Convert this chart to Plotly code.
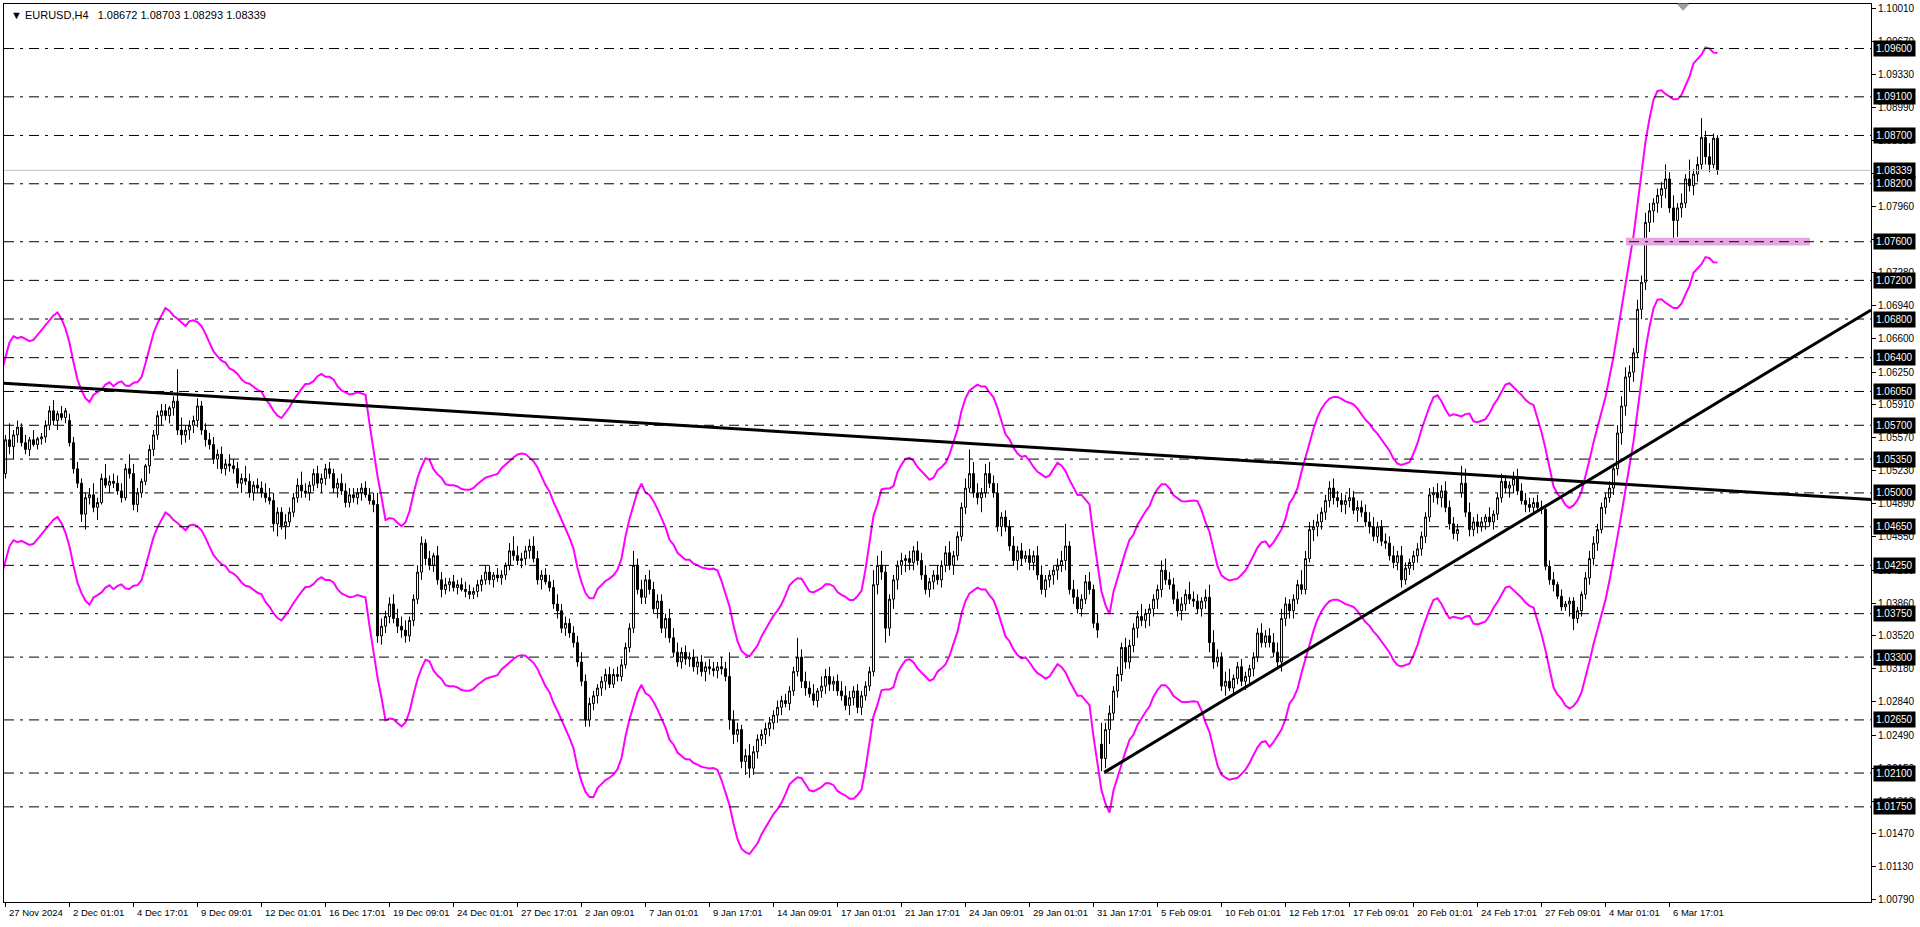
import plotly.graph_objects as go

# ---------------- DATA (prices in pips above 1.0000) ----------------
# bars -3..-1 are the three H4 bars before the visible window (off-screen left)
open_pips = [
    488, 490, 486,                      # 26/27 Nov (before window)
    520, 555, 548, 560,                 # 27 Nov
    568, 552, 545, 555, 550, 556,       # 28 Nov
    558, 570, 585, 575, 582, 578,       # 29 Nov
    575, 552, 525, 510, 478, 495,       # 2 Dec
    498, 485, 490, 515, 508, 512,       # 3 Dec
    510, 502, 495, 525, 520, 488,       # 4 Dec
    500, 512, 528, 545, 560, 580,       # 5 Dec
    585, 580, 588, 595, 565, 560,       # 6 Dec
    565, 570, 575, 590, 565, 555,       # 9 Dec
    550, 535, 540, 525, 530, 528,       # 10 Dec
    525, 510, 515, 512, 500, 508,       # 11 Dec
    505, 500, 495, 492, 468, 480,       # 12 Dec
    466, 470, 480, 495, 508, 502,       # 13 Dec
    500, 508, 520, 510, 515, 525,       # 16 Dec
    520, 505, 510, 502, 490, 498,       # 17 Dec
    495, 500, 505, 498, 492, 488,       # 18 Dec
    352, 362, 372, 385, 370, 362,       # 19 Dec
    358, 352, 368, 390, 418, 448,       # 20 Dec
    432, 425, 435, 410, 400, 405,       # 23 Dec
    408, 402, 405, 400, 398, 395,       # 24 Dec
    398, 405, 410, 418, 410, 415,       # 26 Dec
    412, 415, 425, 440, 435, 430,       # 27 Dec
    432, 440, 445, 432, 410, 415,       # 30 Dec
    408, 402, 385, 378, 360, 365,       # 31 Dec
    355, 345, 325, 305, 265, 282,       # 2 Jan
    290, 298, 305, 312, 302, 312,       # 3 Jan
    310, 322, 340, 360, 425, 400,       # 6 Jan
    392, 410, 400, 380, 388, 360,       # 7 Jan
    370, 350, 335, 325, 335, 328,       # 8 Jan
    330, 320, 325, 315, 320, 318,       # 9 Jan
    316, 320, 318, 310, 265, 250,       # 10 Jan
    255, 222, 228, 215, 232, 245,       # 13 Jan
    250, 256, 262, 270, 278, 285,       # 14 Jan
    282, 295, 315, 330, 305, 298,       # 15 Jan
    292, 285, 295, 300, 310, 302,       # 16 Jan
    305, 295, 290, 280, 288, 295,       # 17 Jan
    278, 290, 300, 315, 405, 425,       # 20 Jan
    418, 360, 390, 410, 425, 430,       # 21 Jan
    432, 428, 440, 430, 415, 400,       # 22 Jan
    408, 415, 410, 425, 438, 425,       # 23 Jan
    435, 455, 485, 505, 520, 500,       # 24 Jan
    495, 500, 520, 510, 500, 465,       # 27 Jan
    475, 465, 445, 430, 440, 432,       # 28 Jan
    435, 428, 435, 415, 400, 410,       # 29 Jan
    415, 420, 425, 430, 445, 400,       # 30 Jan
    392, 380, 390, 408, 400, 365,       # 31 Jan
    240, 225, 255, 272, 295, 312,       # 3 Feb
    340, 325, 342, 360, 372, 368,       # 4 Feb
    375, 380, 390, 400, 420, 410,       # 5 Feb
    405, 390, 378, 385, 395, 390,       # 6 Feb
    388, 380, 388, 392, 345, 325,       # 7 Feb
    330, 300, 305, 298, 308, 320,       # 10 Feb
    305, 310, 318, 330, 355, 345,       # 11 Feb
    352, 345, 335, 325, 370, 385,       # 12 Feb
    378, 390, 405, 400, 432, 462,       # 13 Feb
    465, 470, 480, 492, 505, 495,       # 14 Feb
    492, 488, 492, 495, 482, 485,       # 17 Feb
    480, 470, 465, 455, 465, 450,       # 18 Feb
    448, 435, 428, 435, 410, 422,       # 19 Feb
    428, 435, 442, 455, 475, 498,       # 20 Feb
    500, 495, 502, 485, 468, 458,       # 21 Feb
    500, 510, 480, 462, 470, 465,       # 24 Feb
    470, 475, 470, 478, 495, 512,       # 25 Feb
    505, 508, 515, 502, 492, 488,       # 26 Feb
    485, 490, 485, 483, 424, 410,       # 27 Feb
    405, 393, 382, 385, 388, 370,       # 28 Feb
    378, 395, 412, 432, 448, 462,       # 3 Mar
    485, 495, 505, 525, 562, 590,       # 4 Mar
    620, 625, 645, 690, 718, 780,       # 5 Mar
    792, 800, 808, 815, 825, 795,       # 6 Mar
    782, 795, 800, 825, 818, 830,       # 7 Mar
    840, 868, 848, 840, 867.2,          # 10 Mar
]

high_pips = [
    495, 498, 525,
    560, 572, 565, 575,
    572, 560, 558, 565, 558, 562,
    575, 590, 596, 585, 590, 588,
    582, 558, 532, 515, 500, 505,
    510, 495, 520, 530, 518, 520,
    518, 510, 530, 540, 530, 505,
    515, 530, 550, 565, 585, 592,
    592, 590, 600, 628, 578, 570,
    575, 580, 598, 595, 572, 562,
    558, 545, 548, 535, 540, 535,
    532, 520, 528, 520, 512, 515,
    512, 510, 505, 500, 485, 485,
    478, 485, 500, 515, 522, 510,
    512, 525, 528, 520, 530, 532,
    525, 515, 520, 510, 505, 505,
    505, 510, 512, 505, 500, 500,
    370, 378, 392, 395, 380, 372,
    368, 372, 395, 425, 455, 452,
    440, 438, 445, 418, 412, 412,
    415, 410, 412, 408, 405, 402,
    410, 415, 425, 425, 418, 422,
    420, 428, 448, 455, 445, 438,
    445, 452, 455, 440, 420, 422,
    415, 410, 395, 385, 372, 370,
    362, 352, 335, 312, 288, 295,
    302, 310, 318, 320, 318, 320,
    328, 345, 365, 440, 432, 410,
    415, 420, 408, 395, 395, 375,
    380, 360, 345, 340, 342, 335,
    338, 330, 332, 325, 328, 325,
    325, 330, 325, 335, 275, 262,
    260, 235, 240, 238, 250, 255,
    262, 268, 275, 285, 290, 292,
    300, 320, 350, 338, 315, 305,
    302, 298, 310, 318, 320, 310,
    312, 305, 300, 295, 300, 302,
    295, 305, 320, 420, 435, 440,
    425, 395, 415, 430, 438, 436,
    440, 445, 450, 438, 425, 412,
    420, 425, 430, 445, 450, 440,
    460, 490, 515, 545, 532, 510,
    505, 530, 532, 518, 510, 480,
    482, 472, 455, 445, 448, 440,
    442, 440, 445, 425, 415, 420,
    425, 432, 440, 468, 450, 410,
    400, 395, 415, 418, 405, 375,
    262, 262, 280, 300, 320, 345,
    350, 348, 365, 378, 385, 380,
    385, 395, 405, 430, 432, 418,
    412, 398, 392, 400, 408, 398,
    395, 392, 400, 405, 358, 338,
    335, 315, 318, 312, 325, 328,
    315, 322, 335, 360, 365, 358,
    360, 355, 345, 380, 392, 390,
    395, 410, 420, 440, 470, 472,
    478, 485, 498, 512, 515, 502,
    500, 498, 505, 502, 492, 492,
    488, 480, 475, 470, 472, 458,
    455, 445, 440, 445, 428, 432,
    440, 448, 460, 480, 505, 506,
    510, 508, 512, 492, 475, 468,
    528, 525, 490, 475, 478, 475,
    478, 485, 482, 500, 520, 518,
    512, 522, 525, 510, 500, 495,
    495, 498, 492, 488, 430, 418,
    408, 400, 388, 392, 392, 382,
    398, 418, 440, 455, 468, 490,
    500, 512, 530, 570, 600, 630,
    632, 650, 700, 725, 790, 800,
    805, 815, 822, 840, 832, 808,
    800, 810, 830, 845, 835, 848,
    888, 875, 862, 872, 870.3,
]

low_pips = [
    480, 482, 484,
    515, 540, 535, 552,
    548, 540, 538, 548, 545, 550,
    552, 565, 570, 565, 575, 572,
    548, 520, 505, 470, 462, 488,
    480, 472, 488, 505, 500, 505,
    498, 490, 492, 515, 482, 480,
    495, 508, 520, 538, 555, 570,
    575, 572, 580, 560, 550, 552,
    555, 562, 568, 560, 548, 545,
    530, 525, 520, 518, 522, 520,
    505, 500, 508, 495, 492, 500,
    495, 490, 488, 460, 455, 462,
    452, 465, 475, 490, 495, 495,
    492, 502, 505, 500, 508, 515,
    500, 495, 498, 485, 485, 490,
    488, 492, 495, 488, 480, 345,
    343, 355, 365, 365, 355, 350,
    345, 346, 362, 385, 410, 425,
    420, 418, 405, 392, 395, 398,
    398, 395, 398, 392, 390, 390,
    392, 398, 405, 405, 402, 408,
    405, 410, 420, 430, 425, 422,
    425, 432, 428, 405, 400, 405,
    398, 380, 370, 355, 352, 350,
    340, 320, 300, 258, 258, 275,
    282, 290, 296, 298, 298, 305,
    305, 318, 335, 355, 395, 385,
    385, 395, 375, 370, 355, 350,
    345, 330, 320, 318, 322, 320,
    315, 312, 310, 305, 312, 310,
    308, 312, 305, 255, 240, 242,
    215, 208, 205, 208, 225, 238,
    240, 248, 255, 262, 270, 278,
    275, 290, 310, 298, 290, 288,
    280, 278, 288, 292, 295, 295,
    290, 285, 275, 270, 280, 272,
    270, 285, 295, 310, 395, 410,
    345, 352, 380, 400, 415, 418,
    420, 420, 425, 410, 395, 392,
    400, 405, 402, 418, 420, 415,
    430, 450, 478, 500, 495, 488,
    480, 495, 505, 495, 460, 455,
    460, 440, 425, 420, 425, 428,
    420, 420, 410, 395, 392, 402,
    405, 410, 418, 420, 395, 385,
    375, 372, 385, 395, 360, 350,
    212, 215, 240, 265, 288, 305,
    318, 318, 335, 350, 362, 360,
    362, 372, 380, 392, 405, 400,
    385, 372, 368, 378, 385, 382,
    375, 372, 380, 335, 318, 320,
    295, 290, 295, 290, 302, 300,
    296, 302, 310, 325, 340, 340,
    340, 330, 318, 315, 362, 370,
    370, 385, 395, 395, 428, 450,
    455, 462, 472, 485, 488, 485,
    480, 478, 485, 478, 470, 475,
    465, 458, 450, 448, 445, 442,
    430, 422, 420, 402, 405, 415,
    420, 428, 435, 448, 470, 490,
    488, 485, 480, 462, 452, 450,
    495, 475, 455, 455, 458, 460,
    462, 465, 462, 472, 490, 500,
    495, 500, 498, 488, 480, 480,
    478, 480, 478, 420, 405, 398,
    390, 378, 378, 372, 358, 365,
    372, 390, 405, 425, 440, 458,
    478, 490, 498, 518, 550, 580,
    605, 615, 640, 680, 710, 770,
    780, 790, 795, 805, 790, 762,
    765, 785, 795, 812, 808, 822,
    835, 840, 832, 836, 829.3,
]

close_pips = [
    490, 486, 520,
    555, 548, 560, 568,
    552, 545, 555, 550, 556, 558,
    570, 585, 575, 582, 578, 585,
    552, 525, 510, 478, 495, 498,
    485, 490, 515, 508, 512, 510,
    502, 495, 525, 520, 488, 500,
    512, 528, 545, 560, 580, 585,
    580, 588, 595, 565, 560, 565,
    570, 575, 590, 565, 555, 550,
    535, 540, 525, 530, 528, 525,
    510, 515, 512, 500, 508, 505,
    500, 495, 492, 468, 480, 466,
    470, 480, 495, 508, 502, 500,
    508, 520, 510, 515, 525, 520,
    505, 510, 502, 490, 498, 495,
    500, 505, 498, 492, 488, 352,
    362, 372, 385, 370, 362, 358,
    352, 368, 390, 418, 448, 432,
    425, 435, 410, 400, 405, 408,
    402, 405, 400, 398, 395, 398,
    405, 410, 418, 410, 415, 412,
    415, 425, 440, 435, 430, 432,
    440, 445, 432, 410, 415, 408,
    402, 385, 378, 360, 365, 355,
    345, 325, 305, 265, 282, 290,
    298, 305, 312, 302, 312, 310,
    322, 340, 360, 425, 400, 392,
    410, 400, 380, 388, 360, 370,
    350, 335, 325, 335, 328, 330,
    320, 325, 315, 320, 318, 316,
    320, 318, 310, 265, 250, 255,
    222, 228, 215, 232, 245, 250,
    256, 262, 270, 278, 285, 282,
    295, 315, 330, 305, 298, 292,
    285, 295, 300, 310, 302, 305,
    295, 290, 280, 288, 295, 278,
    290, 300, 315, 405, 425, 418,
    360, 390, 410, 425, 430, 432,
    428, 440, 430, 415, 400, 408,
    415, 410, 425, 438, 425, 435,
    455, 485, 505, 520, 500, 495,
    500, 520, 510, 500, 465, 475,
    465, 445, 430, 440, 432, 435,
    428, 435, 415, 400, 410, 415,
    420, 425, 430, 445, 400, 392,
    380, 390, 408, 400, 365, 358,
    225, 255, 272, 295, 312, 340,
    325, 342, 360, 372, 368, 375,
    380, 390, 400, 420, 410, 405,
    390, 378, 385, 395, 390, 388,
    380, 388, 392, 345, 325, 330,
    300, 305, 298, 308, 320, 305,
    310, 318, 330, 355, 345, 352,
    345, 335, 325, 370, 385, 378,
    390, 405, 400, 432, 462, 465,
    470, 480, 492, 505, 495, 492,
    488, 492, 495, 482, 485, 480,
    470, 465, 455, 465, 450, 448,
    435, 428, 435, 410, 422, 428,
    435, 442, 455, 475, 498, 500,
    495, 502, 485, 468, 458, 462,
    510, 480, 462, 470, 465, 470,
    475, 470, 478, 495, 512, 505,
    508, 515, 502, 492, 488, 485,
    490, 485, 483, 424, 410, 405,
    393, 382, 385, 388, 370, 378,
    395, 412, 432, 448, 462, 485,
    495, 505, 525, 562, 590, 620,
    625, 645, 690, 718, 780, 792,
    800, 808, 815, 825, 795, 782,
    795, 800, 825, 818, 830, 840,
    868, 848, 840, 867.2, 833.9,
]

first_bar = -3
level_prices = [1.0960, 1.0910, 1.0870, 1.0820, 1.0760, 1.0720, 1.0680, 1.0640,
                1.0605, 1.0570, 1.0535, 1.0500, 1.0465, 1.0425, 1.0375, 1.0330,
                1.0265, 1.0210, 1.0175]
bid_price = 1.08339
axis_ticks = [1.10010, 1.09670, 1.09330, 1.08990, 1.08650, 1.08310, 1.07960, 1.07620,
              1.07280, 1.06940, 1.06600, 1.06250, 1.05910, 1.05570, 1.05230, 1.04890,
              1.04550, 1.04200, 1.03860, 1.03520, 1.03180, 1.02840, 1.02490, 1.02150,
              1.01810, 1.01470, 1.01130, 1.00790]
time_labels = ["27 Nov 2024", "2 Dec 01:01", "4 Dec 17:01", "9 Dec 09:01", "12 Dec 01:01",
               "16 Dec 17:01", "19 Dec 09:01", "24 Dec 01:01", "27 Dec 17:01", "2 Jan 09:01",
               "7 Jan 01:01", "9 Jan 17:01", "14 Jan 09:01", "17 Jan 01:01", "21 Jan 17:01",
               "24 Jan 09:01", "29 Jan 01:01", "31 Jan 17:01", "5 Feb 09:01", "10 Feb 01:01",
               "12 Feb 17:01", "17 Feb 09:01", "20 Feb 01:01", "24 Feb 17:01", "27 Feb 09:01",
               "4 Mar 01:01", "6 Mar 17:01"]
label_step = 16
# trendline anchor points (bar index, price)
down_trend = [(-0.4, 1.06135), (466.4, 1.04931)]
up_trend = [(274.7, 1.02107), (466.4, 1.06894)]
pink_zone = (405.1, 451.1, 1.0756, 1.0764)
envelope_half_window = 2
envelope_dev = 0.01
header = "EURUSD,H4\u00a0\u00a0 1.08672 1.08703 1.08293 1.08339"

# ---------------- BUILD ----------------
n = min(len(open_pips), len(high_pips), len(low_pips), len(close_pips))
bars = list(range(first_bar, first_bar + n))
to_price = lambda p: 1.0 + p / 10000.0
O = [to_price(v) for v in open_pips[:n]]
H = [to_price(v) for v in high_pips[:n]]
L = [to_price(v) for v in low_pips[:n]]
C = [to_price(v) for v in close_pips[:n]]

center = []
for i in range(n):
    lo = max(0, i - envelope_half_window)
    hi = min(n, i + envelope_half_window + 1)
    seg = C[lo:hi]
    center.append(sum(seg) / len(seg))
upper = [c * (1 + envelope_dev) for c in center]
lower = [c * (1 - envelope_dev) for c in center]

X0, X1 = -0.375, 466.375
Y0, Y1 = 1.00765, 1.10061
FONT = "Liberation Sans"

fig = go.Figure()
fig.add_trace(go.Candlestick(
    x=bars, open=O, high=H, low=L, close=C,
    increasing=dict(line=dict(color="black", width=1), fillcolor="white"),
    decreasing=dict(line=dict(color="black", width=1), fillcolor="black"),
    whiskerwidth=0, hoverinfo="skip", showlegend=False))
fig.add_trace(go.Scatter(x=bars, y=upper, mode="lines",
                         line=dict(color="#ff00ff", width=2), hoverinfo="skip"))
fig.add_trace(go.Scatter(x=bars, y=lower, mode="lines",
                         line=dict(color="#ff00ff", width=2), hoverinfo="skip"))

shapes = []
shapes.append(dict(type="rect", xref="x", yref="y", x0=pink_zone[0], x1=pink_zone[1],
                   y0=pink_zone[2], y1=pink_zone[3], fillcolor="#e6a4e0",
                   line=dict(width=0), layer="above"))
shapes.append(dict(type="line", xref="paper", yref="y", x0=0, x1=1, y0=bid_price, y1=bid_price,
                   line=dict(color="#c0c0c0", width=1)))
for lv in level_prices:
    shapes.append(dict(type="line", xref="paper", yref="y", x0=0, x1=1, y0=lv, y1=lv,
                       line=dict(color="black", width=1, dash="10px,6px,3px,6px")))
for tl in (down_trend, up_trend):
    shapes.append(dict(type="line", xref="x", yref="y", x0=tl[0][0], y0=tl[0][1],
                       x1=tl[1][0], y1=tl[1][1], line=dict(color="black", width=3)))
# chart-shift marker
shapes.append(dict(type="path", xref="x", yref="paper",
                   path="M 418.0 1.0 L 420.8 1.0 L 419.4 0.993 Z",
                   fillcolor="#a0a0a0", line=dict(color="#a0a0a0", width=1)))

annotations = []
annotations.append(dict(xref="paper", yref="paper", x=0, y=1, xanchor="left", yanchor="top",
                        xshift=5, yshift=-3, showarrow=False,
                        text="\u25bc " + header,
                        font=dict(family=FONT, size=11, color="black")))
for k, lab in enumerate(time_labels):
    annotations.append(dict(xref="x", yref="paper", x=k * label_step, y=0,
                            xanchor="left", yanchor="top", xshift=1, yshift=-3,
                            showarrow=False, text=lab,
                            font=dict(family=FONT, size=9.5, color="black")))
for lv in level_prices + [bid_price]:
    annotations.append(dict(xref="paper", yref="y", x=1, y=lv, xanchor="left",
                            yanchor="middle", xshift=2, showarrow=False,
                            text="%.5f" % lv, bgcolor="black", borderpad=2,
                            font=dict(family=FONT, size=10, color="white")))

fig.update_layout(
    width=1920, height=927,
    margin=dict(l=4, r=49, t=4, b=25, autoexpand=False),
    paper_bgcolor="white", plot_bgcolor="white",
    showlegend=False, shapes=shapes, annotations=annotations,
    xaxis=dict(range=[X0, X1], showgrid=False, zeroline=False,
               rangeslider=dict(visible=False),
               showline=True, mirror=True, linecolor="black", linewidth=1,
               tickvals=[k * label_step for k in range(len(time_labels))],
               ticks="outside", ticklen=4, tickcolor="black", showticklabels=False,
               fixedrange=True),
    yaxis=dict(range=[Y0, Y1], side="right", showgrid=False, zeroline=False,
               showline=True, mirror=True, linecolor="black", linewidth=1,
               tickvals=axis_ticks, ticktext=["%.5f" % t for t in axis_ticks],
               ticks="outside", ticklen=4, tickcolor="black",
               tickfont=dict(family=FONT, size=10, color="black"),
               fixedrange=True),
)

fig.write_html("out.html", config={"displayModeBar": False},
               post_script="document.body.style.margin='0';")
